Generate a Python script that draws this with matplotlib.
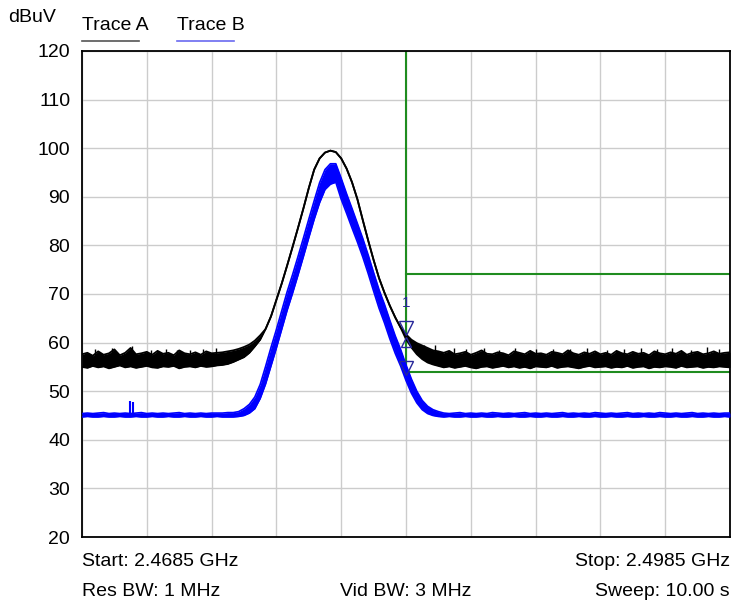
"""
Spectrum analyzer trace: Trace A / Trace B with limit lines
"""

import numpy as np
import matplotlib.pyplot as plt

plt.rcParams['font.family'] = ['Liberation Sans', 'DejaVu Sans']

# sweep points, MHz (2.4685 GHz .. 2.4985 GHz, 0.25 MHz steps)
freq = np.linspace(2468.5, 2498.5, 121)

# Trace A (black) - upper / lower envelope, dBuV
a_floor_hi_left = [57.6, 57.9, 57.3, 58.2, 57.5, 57.8, 58.6, 57.4, 57.9, 58.9,
                   57.6, 57.8, 58.1, 57.5, 58.3, 57.7, 57.9, 57.4, 58.4, 57.8,
                   57.6, 58.0, 57.5, 58.2, 57.8, 57.9]
a_floor_lo_left = [55.0, 54.8, 55.2, 54.9, 55.1, 54.7, 55.0, 55.3, 54.9, 55.1,
                   54.8, 55.0, 55.2, 54.9, 54.8, 55.1, 55.0, 55.2, 54.7, 55.0,
                   55.1, 54.9, 55.2, 55.0, 55.1, 55.3]
a_rise_hi = [58.0, 58.2, 58.4, 58.7, 59.1, 59.6, 60.4, 61.5]
a_rise_lo = [55.4, 55.6, 56.0, 56.5, 57.0, 57.9, 59.2, 60.6]
a_peak = [62.8, 65.4, 68.8, 72.2, 75.9, 79.7, 83.6, 87.6, 91.8, 95.6,
          97.9, 99.1, 99.5, 99.2, 97.9, 95.8, 93.0, 89.5, 85.2, 81.0,
          77.0, 73.3, 70.3, 67.6, 65.2, 63.1]
a_fall_hi = [61.7, 60.6, 59.9, 59.4, 58.9, 58.4, 58.2]
a_fall_lo = [60.7, 59.0, 57.6, 56.6, 55.9, 55.5, 55.2]
a_floor_hi_right = [57.9, 58.3, 57.6, 57.8, 58.1, 57.5, 57.9, 58.4, 57.7, 57.6,
                    58.0, 57.8, 57.4, 58.2, 57.9, 57.6, 58.3, 57.7, 57.8, 57.5,
                    58.1, 57.9, 57.6, 58.4, 57.8, 57.5, 58.0, 57.7, 58.2, 57.6,
                    57.9, 57.5, 58.3, 57.8, 57.6, 58.1, 57.7, 57.9, 57.4, 58.2,
                    57.8, 57.6, 58.0, 57.7, 58.3, 57.5, 57.9, 58.1, 57.6, 57.8,
                    58.2, 57.7, 57.9, 58.0]
a_floor_lo_right = [54.9, 55.1, 54.8, 55.0, 55.2, 54.9, 54.7, 55.0, 55.1, 54.8,
                    55.0, 55.2, 54.9, 55.1, 54.8, 55.0, 54.7, 55.1, 55.0, 54.9,
                    55.2, 54.8, 55.0, 55.1, 54.9, 54.7, 55.0, 55.2, 54.9, 55.0,
                    55.1, 54.8, 55.0, 54.9, 55.2, 54.8, 55.0, 55.1, 54.7, 55.0,
                    54.9, 55.1, 55.0, 54.8, 55.2, 54.9, 55.0, 55.1, 54.8, 55.0,
                    54.9, 55.1, 55.0, 54.9]
a_hi = a_floor_hi_left + a_rise_hi + a_peak + a_fall_hi + a_floor_hi_right
a_lo = a_floor_lo_left + a_rise_lo + a_peak + a_fall_lo + a_floor_lo_right

# noise spikes on trace A
a_spike_f = [2469.1, 2469.9, 2470.8, 2471.7, 2472.4, 2472.9, 2473.5, 2474.1, 2474.7,
             2484.35, 2484.85, 2485.7, 2486.3, 2487.1, 2487.8, 2488.55, 2489.5,
             2490.3, 2491.1, 2491.9, 2492.8, 2493.6, 2494.4, 2495.1, 2495.8,
             2496.7, 2497.45, 2498.0]
a_spike_v = [58.6, 58.8, 59.3, 58.4, 58.7, 58.5, 58.5, 58.6, 58.9,
             59.6, 59.5, 58.9, 58.6, 58.8, 58.5, 58.9, 58.7,
             58.6, 58.6, 58.8, 58.5, 58.7, 58.9, 58.6, 58.9,
             58.5, 59.0, 58.7]

# Trace B (blue) - upper / lower envelope, dBuV
b_floor_hi_left = [45.4, 45.5, 45.4, 45.5, 45.6, 45.4, 45.5, 45.4, 45.5, 45.4,
                   45.5, 45.6, 45.4, 45.5, 45.4, 45.5, 45.4, 45.5, 45.6, 45.4,
                   45.5, 45.4, 45.5, 45.4, 45.5, 45.5, 45.5, 45.6]
b_floor_lo_left = [44.7, 44.8, 44.7, 44.7, 44.8, 44.7, 44.7, 44.8, 44.7, 44.7,
                   44.8, 44.7, 44.7, 44.8, 44.7, 44.7, 44.8, 44.7, 44.7, 44.8,
                   44.7, 44.7, 44.8, 44.7, 44.7, 44.8, 44.7, 44.7]
b_peak_hi = [45.6, 45.8, 46.4, 47.3, 48.8, 51.4,
             55.1, 59.0, 62.7, 66.6, 70.5, 74.0, 77.7, 81.5, 85.4, 89.2,
             92.9, 95.6, 96.8, 96.8,
             93.8, 90.6, 87.6, 84.5, 81.4, 78.0, 74.4, 70.9, 67.9, 64.6,
             61.4, 58.6, 55.4, 52.5, 50.0, 48.1, 46.9, 46.2, 45.8]
b_peak_lo = [44.7, 44.8, 45.0, 45.5, 46.4, 48.5,
             51.5, 55.2, 58.9, 62.8, 66.7, 70.2, 73.9, 77.7, 81.6, 85.4,
             88.8, 91.5, 92.6, 93.0,
             89.5, 86.6, 83.6, 80.7, 77.6, 74.2, 70.6, 67.1, 64.1, 60.8,
             57.8, 55.2, 52.2, 49.6, 47.6, 46.2, 45.4, 45.0, 44.8]
b_floor_hi_right = [45.5, 45.4, 45.5, 45.6, 45.4, 45.5, 45.4, 45.5, 45.4, 45.6,
                    45.5, 45.4, 45.5, 45.4, 45.5, 45.6, 45.4, 45.5, 45.4, 45.5,
                    45.4, 45.5, 45.6, 45.4, 45.5, 45.4, 45.5, 45.4, 45.6, 45.5,
                    45.4, 45.5, 45.4, 45.5, 45.6, 45.4, 45.5, 45.4, 45.5, 45.4,
                    45.6, 45.5, 45.4, 45.5, 45.4, 45.5, 45.6, 45.4, 45.5, 45.4,
                    45.5, 45.4, 45.5, 45.5]
b_floor_lo_right = [44.7, 44.8, 44.7, 44.7, 44.8, 44.7, 44.7, 44.8, 44.7, 44.7,
                    44.8, 44.7, 44.7, 44.8, 44.7, 44.7, 44.8, 44.7, 44.7, 44.8,
                    44.7, 44.7, 44.8, 44.7, 44.7, 44.8, 44.7, 44.7, 44.8, 44.7,
                    44.7, 44.8, 44.7, 44.7, 44.8, 44.7, 44.7, 44.8, 44.7, 44.7,
                    44.8, 44.7, 44.7, 44.8, 44.7, 44.7, 44.8, 44.7, 44.7, 44.8,
                    44.7, 44.7, 44.8, 44.7]
b_hi = b_floor_hi_left + b_peak_hi + b_floor_hi_right
b_lo = b_floor_lo_left + b_peak_lo + b_floor_lo_right

b_spike_f = [2470.7, 2470.85]
b_spike_v = [48.0, 47.7]

# limit lines
limit_f = 2483.5
limit_upper = 74.1
limit_lower = 54.0

# markers at the limit frequency
marker_a = 61.2
marker_b = 53.8

fig = plt.figure(figsize=(7.36, 6.05), dpi=100)
ax = fig.add_axes([82 / 736, 1 - 537 / 605, 648 / 736, 486 / 605])

# green limit lines
green = '#1f8c1f'
ax.plot([limit_f, limit_f], [limit_lower, 120], color=green, lw=1.5, zorder=2)
ax.plot([limit_f, 2498.5], [limit_upper, limit_upper], color=green, lw=1.5, zorder=2)
ax.plot([limit_f, 2498.5], [limit_lower, limit_lower], color=green, lw=1.5, zorder=2)

# trace A
ax.fill_between(freq, a_lo, a_hi, color='black', lw=0, zorder=3)
ax.plot(freq, a_hi, color='black', lw=1.3, zorder=3)
ax.plot(freq, a_lo, color='black', lw=1.3, zorder=3)
ax.vlines(a_spike_f, 57.0, a_spike_v, color='black', lw=1, zorder=3)

# trace B
ax.fill_between(freq, b_lo, b_hi, color='#0000ff', lw=0, zorder=4)
ax.plot(freq, b_hi, color='#0000ff', lw=1.2, zorder=4)
ax.plot(freq, b_lo, color='#0000ff', lw=1.2, zorder=4)
ax.vlines(b_spike_f, 45.0, b_spike_v, color='#0000ff', lw=1.5, zorder=4)

# markers
navy = '#27279a'
ax.plot(limit_f, marker_a + 1.8, marker='v', ms=10, mfc='none', mec=navy, mew=1, zorder=5)
ax.plot(limit_f, marker_a - 1.0, marker='^', ms=7, mfc='none', mec=navy, mew=1, zorder=5)
ax.plot(limit_f, marker_b + 1.0, marker='v', ms=10, mfc='none', mec=navy, mew=1, zorder=5)
ax.text(limit_f, marker_a + 7.0, '1', color=navy, fontsize=11, ha='center', va='center', zorder=5)

ax.set_xlim(2468.5, 2498.5)
ax.set_ylim(20, 120)
ax.set_xticks(np.linspace(2468.5, 2498.5, 11))
ax.set_yticks(range(20, 121, 10))
ax.grid(color='#cccccc', lw=1)
ax.set_axisbelow(True)
ax.tick_params(length=0, labelbottom=False, labelsize=14, pad=8.5)
for s in ax.spines.values():
    s.set_color('black')
    s.set_linewidth(1.3)

# header texts
fig.text(8 / 736, 1 - 18 / 605, 'dBuV', fontsize=14, ha='left', va='center')
fig.text(82 / 736, 1 - 26 / 605, 'Trace A', fontsize=14, ha='left', va='center')
fig.text(177 / 736, 1 - 26 / 605, 'Trace B', fontsize=14, ha='left', va='center')
fig.add_artist(plt.Line2D([82 / 736, 139 / 736], [1 - 41 / 605] * 2, color='#555555', lw=1.2))
fig.add_artist(plt.Line2D([177 / 736, 234 / 736], [1 - 41 / 605] * 2, color='#6a6af0', lw=1.2))

# footer texts
fig.text(82 / 736, 1 - 562 / 605, 'Start: 2.4685 GHz', fontsize=14, ha='left', va='center')
fig.text(730 / 736, 1 - 562 / 605, 'Stop: 2.4985 GHz', fontsize=14, ha='right', va='center')
fig.text(82 / 736, 1 - 591 / 605, 'Res BW: 1 MHz', fontsize=14, ha='left', va='center')
fig.text(406 / 736, 1 - 591 / 605, 'Vid BW: 3 MHz', fontsize=14, ha='center', va='center')
fig.text(730 / 736, 1 - 591 / 605, 'Sweep: 10.00 s', fontsize=14, ha='right', va='center')

fig.savefig('out.png', dpi=100)
